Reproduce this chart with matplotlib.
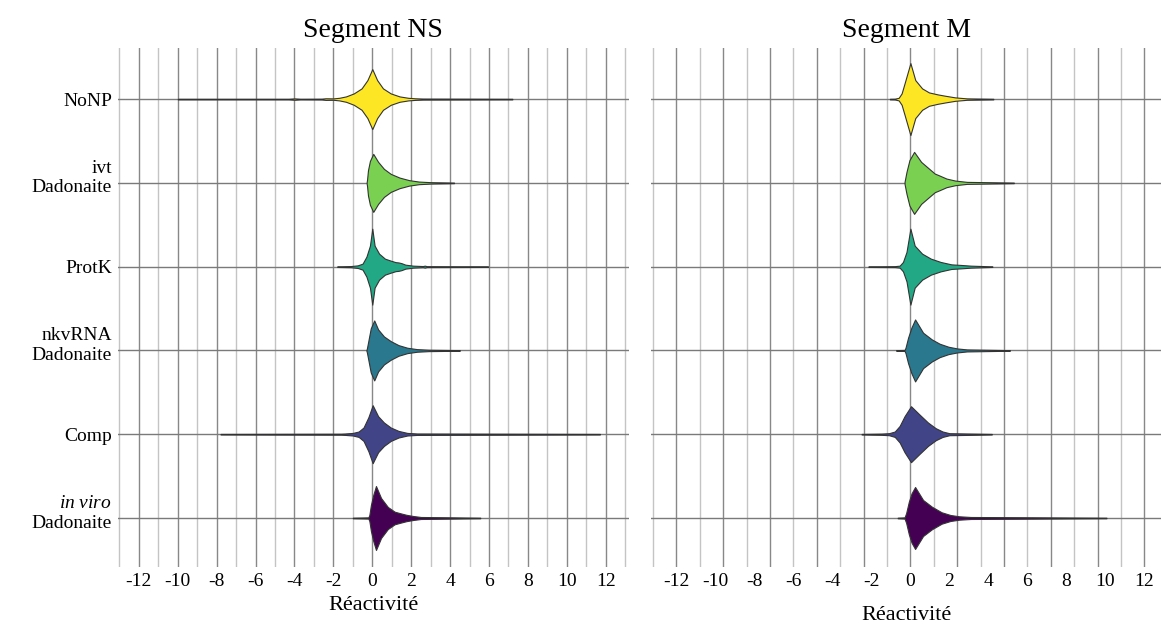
import numpy as np
import matplotlib
matplotlib.use("Agg")
import matplotlib.pyplot as plt
import matplotlib.transforms as mtransforms

plt.rcParams['font.family'] = ['Liberation Serif', 'DejaVu Serif']
plt.rcParams['mathtext.fontset'] = 'custom'
plt.rcParams['mathtext.it'] = 'Liberation Serif:italic'
plt.rcParams['mathtext.rm'] = 'Liberation Serif'

# row labels, top to bottom
samples = ['NoNP', 'ivt\nDadonaite', 'ProtK', 'nkvRNA\nDadonaite', 'Comp',
           r'$\mathit{in\ viro}$' + '\nDadonaite']
colors = ['#FDE725', '#7AD151', '#22A884', '#2A788E', '#414487', '#440154']

# violin outlines: (reactivity, density)
ns_profiles = [
    [(-10.0, 0.3), (-4.3, 0.3), (-4.0, 0.7), (-3.7, 0.3), (-2.6, 0.4), (-2.4, 0.8),
     (-2.0, 0.7), (-1.7, 1.3), (-1.35, 2.7), (-0.95, 5.7), (-0.55, 10.7), (-0.25, 19),
     (0.0, 30), (0.25, 19), (0.55, 10.7), (0.95, 5.7), (1.4, 2.7), (1.85, 1.3),
     (2.2, 0.8), (2.6, 0.5), (7.2, 0.3)],
    [(-0.29, 0.5), (-0.27, 3), (-0.22, 12.7), (-0.12, 22), (0.05, 29), (0.3, 21),
     (0.6, 14), (0.95, 9), (1.4, 5.3), (1.9, 2.7), (2.4, 1.3), (3.0, 0.7), (4.2, 0.3)],
    [(-1.8, 0.3), (-1.1, 0.6), (-0.75, 1.3), (-0.5, 3), (-0.3, 10), (-0.12, 21),
     (0.0, 38), (0.12, 21), (0.35, 13), (0.65, 8), (0.95, 6), (1.2, 4.5), (1.35, 4.2),
     (1.5, 3.5), (1.7, 2), (2.1, 1), (2.6, 0.6), (2.7, 1.0), (2.8, 0.5), (5.95, 0.3)],
    [(-0.3, 0.5), (-0.28, 1.7), (-0.22, 7.7), (-0.08, 22), (0.1, 30), (0.3, 21),
     (0.6, 14), (0.95, 9.3), (1.35, 5.3), (1.8, 2.7), (2.3, 1.3), (2.9, 0.7), (4.5, 0.3)],
    [(-7.8, 0.3), (-1.6, 0.5), (-1.4, 0.7), (-1.0, 1.3), (-0.7, 2.7), (-0.45, 6.7),
     (-0.2, 17), (0.02, 29), (0.3, 18), (0.6, 11.7), (0.95, 6.7), (1.35, 3.3),
     (1.8, 1.3), (2.3, 0.7), (11.7, 0.3)],
    [(-1.0, 0.3), (-0.2, 0.6), (-0.15, 3), (-0.07, 13), (0.05, 23), (0.19, 32),
     (0.45, 20), (0.8, 11), (1.15, 6.3), (1.45, 4.7), (1.75, 3.2), (2.1, 2), (2.5, 1),
     (5.55, 0.3)],
]

m_profiles = [
    [(-1.05, 0.3), (-0.8, 0.4), (-0.6, 1.3), (-0.45, 5.7), (-0.3, 15.7), (0.0, 36),
     (0.25, 19), (0.6, 10.7), (0.95, 6.7), (1.4, 4.7), (1.8, 3.3), (2.3, 1.7),
     (2.9, 0.7), (4.25, 0.3)],
    [(-0.3, 1), (-0.2, 11), (-0.05, 22.7), (0.19, 31), (0.55, 21), (0.95, 14.3),
     (1.25, 9.3), (1.45, 7.7), (1.85, 4.3), (2.3, 2.3), (2.9, 1), (5.3, 0.3)],
    [(-2.15, 0.3), (-0.8, 0.5), (-0.55, 1), (-0.38, 4.7), (-0.2, 14.7), (0.0, 38),
     (0.22, 21), (0.6, 13), (1.05, 8), (1.55, 4.7), (2.1, 2.3), (2.6, 1.7),
     (3.1, 1), (4.2, 0.3)],
    [(-0.73, 0.3), (-0.3, 0.5), (-0.25, 2.7), (-0.12, 12.7), (0.05, 22.7), (0.24, 31),
     (0.65, 17.7), (1.1, 11), (1.5, 6.7), (1.95, 3.7), (2.4, 2), (2.9, 1), (5.1, 0.3)],
    [(-2.5, 0.3), (-1.5, 0.6), (-1.1, 1), (-0.8, 2.7), (-0.55, 8.3), (-0.3, 18),
     (0.03, 28), (0.45, 20), (0.9, 11.7), (1.3, 6), (1.65, 2.7), (2.0, 1), (4.17, 0.3)],
    [(-0.65, 0.3), (-0.3, 0.6), (-0.22, 4.7), (-0.08, 16.3), (0.06, 24.7), (0.24, 31),
     (0.65, 18), (1.1, 11.3), (1.6, 5.7), (2.05, 3), (2.5, 1.7), (3.1, 1), (10.05, 0.3)],
]

xticks = np.arange(-12, 13, 2)
ns_grid = np.arange(-13, 14, 1)
m_grid = np.round(np.arange(-11, 11) * 1.2, 2)

W = 1161
H = 624
dens_scale = 1 / 83.8


def draw_panel(ax, profiles, grid, dark_step, title, xlim, xlabel_pad):
    n = len(samples)
    ypos = np.arange(n)[::-1]
    for g in grid:
        dark = abs(round(g / dark_step) * dark_step - g) < 1e-6
        ax.axvline(g, color='#888888' if dark else '#c4c4c4', lw=1.0, zorder=0)
    for y in ypos:
        ax.axhline(y, color='#7a7a7a', lw=1.0, zorder=0)
    for prof, y, c in zip(profiles, ypos, colors):
        x = np.array([p[0] for p in prof])
        d = np.array([p[1] for p in prof]) * dens_scale
        ax.fill_between(x, y - d, y + d, facecolor=c, edgecolor='#333333',
                        lw=0.8, zorder=2)
    ax.set_xlim(*xlim)
    ax.set_ylim(-0.585, 5.61)
    ax.set_xticks(xticks)
    ax.set_xticklabels([str(t) for t in xticks], fontsize=14)
    ax.set_yticks(ypos)
    ax.tick_params(length=0, pad=4)
    for s in ax.spines.values():
        s.set_visible(False)
    ax.set_title(title, fontsize=20, pad=8)
    ax.set_xlabel('Réactivité', fontsize=16, labelpad=xlabel_pad)


fig = plt.figure(figsize=(W / 100, H / 100), dpi=100)
ax1 = fig.add_axes([117.5 / W, 1 - 567 / H, 511.5 / W, 519 / H])
ax2 = fig.add_axes([651 / W, 1 - 567 / H, 511 / W, 519 / H])

draw_panel(ax1, ns_profiles, ns_grid, 2, 'Segment NS', (-13.1, 13.2), 5)
draw_panel(ax2, m_profiles, m_grid, 2.4, 'Segment M', (-13.3, 12.9), 12)

ax1.set_yticklabels(samples, fontsize=14)
ax2.set_yticklabels([])

# two-line labels sit a little higher than the row line
shift = mtransforms.ScaledTranslation(0, 8 / 100, fig.dpi_scale_trans)
for lab in ax1.get_yticklabels():
    if '\n' in lab.get_text():
        lab.set_transform(lab.get_transform() + shift)

fig.savefig('out.png', dpi=100)
